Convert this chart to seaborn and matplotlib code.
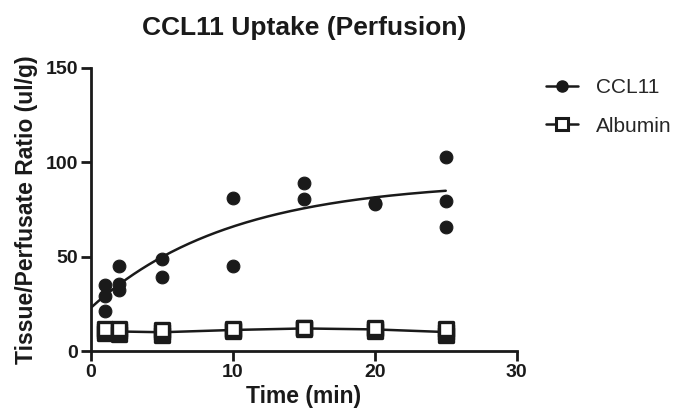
import numpy as np
import pandas as pd
import matplotlib
matplotlib.use("Agg")
import matplotlib.pyplot as plt
import seaborn as sns
from matplotlib.lines import Line2D

# CCL11 individual points
ccl_time = [1, 1, 1, 2, 2, 2, 5, 5, 10, 10, 15, 15, 20, 20, 25, 25, 25]
ccl_val = [35.2, 29.0, 21.1, 44.9, 35.7, 32.6, 48.9, 39.3, 81.3, 44.9, 89.2, 80.5, 78.4, 78.0, 103.0, 79.7, 66.0]

# Albumin individual points
alb_time = [1, 1, 1, 2, 2, 2, 5, 5, 5, 10, 10, 10, 15, 15, 15, 20, 20, 20, 25, 25, 25]
alb_val = [9.5, 10.5, 11.5, 9.2, 10.4, 11.6, 8.8, 10.0, 11.2, 10.6, 11.2, 11.8, 11.5, 12.0, 12.5, 10.5, 11.5, 12.5, 8.6, 10.1, 11.6]

# One-phase association fit parameters
fit_y0 = 23.0
fit_plateau = 90.2
fit_k = 0.102

x_ticks = [0, 10, 20, 30]
y_ticks = [0, 50, 100, 150]

sns.set_theme(style="ticks")
plt.rcParams['font.family'] = ['Liberation Sans', 'DejaVu Sans']

INK = "#1a1a1a"
fig = plt.figure(figsize=(6.79, 4.17), dpi=100)
ax = fig.add_axes([0.134, 0.158, 0.627, 0.679])

ccl_df = pd.DataFrame({"t": ccl_time, "v": ccl_val})
alb_df = pd.DataFrame({"t": alb_time, "v": alb_val})

# fit curve for CCL11
xs = np.linspace(0, 25, 200)
ys = fit_y0 + (fit_plateau - fit_y0) * (1 - np.exp(-fit_k * xs))
ax.plot(xs, ys, color=INK, lw=1.8, zorder=2)

# albumin mean line
alb_mean = alb_df.groupby("t")["v"].mean().reset_index()
sns.lineplot(data=alb_mean, x="t", y="v", ax=ax, color=INK, lw=1.8, zorder=2)

sns.scatterplot(data=ccl_df, x="t", y="v", ax=ax, marker="o", s=85,
                color=INK, edgecolor=INK, zorder=3)
sns.scatterplot(data=alb_df, x="t", y="v", ax=ax, marker="s", s=100,
                facecolor="white", edgecolor=INK, linewidth=2.4, zorder=3)

ax.set_xlim(0, 30)
ax.set_ylim(0, 150)
ax.set_xticks(x_ticks)
ax.set_yticks(y_ticks)
for lab in ax.get_xticklabels() + ax.get_yticklabels():
    lab.set_fontweight("bold")
    lab.set_fontsize(14)
ax.tick_params(axis="both", direction="out", length=7, width=2, color=INK, labelcolor=INK, pad=2)
for s in ["top", "right"]:
    ax.spines[s].set_visible(False)
for s in ["left", "bottom"]:
    ax.spines[s].set_linewidth(2)
    ax.spines[s].set_color(INK)

ax.set_xlabel("Time (min)", fontsize=16.5, fontweight="bold", color=INK, labelpad=3)
ax.set_ylabel("Tissue/Perfusate Ratio (ul/g)", fontsize=16.5, fontweight="bold", color=INK, labelpad=6)
ax.set_title("CCL11 Uptake (Perfusion)", fontsize=19, fontweight="bold", color=INK, pad=24)

handles = [
    Line2D([0], [0], color=INK, lw=1.8, marker="o", markersize=8, markerfacecolor=INK),
    Line2D([0], [0], color=INK, lw=1.8, marker="s", markersize=8, markerfacecolor="white", markeredgewidth=2.2),
]
fig.legend(handles, ["CCL11", "Albumin"], loc="upper left", bbox_to_anchor=(0.792, 0.833),
           frameon=False, fontsize=15, handlelength=1.55, handletextpad=0.85, labelspacing=0.95,
           borderaxespad=0.0)

fig.savefig("out.png", dpi=100)
